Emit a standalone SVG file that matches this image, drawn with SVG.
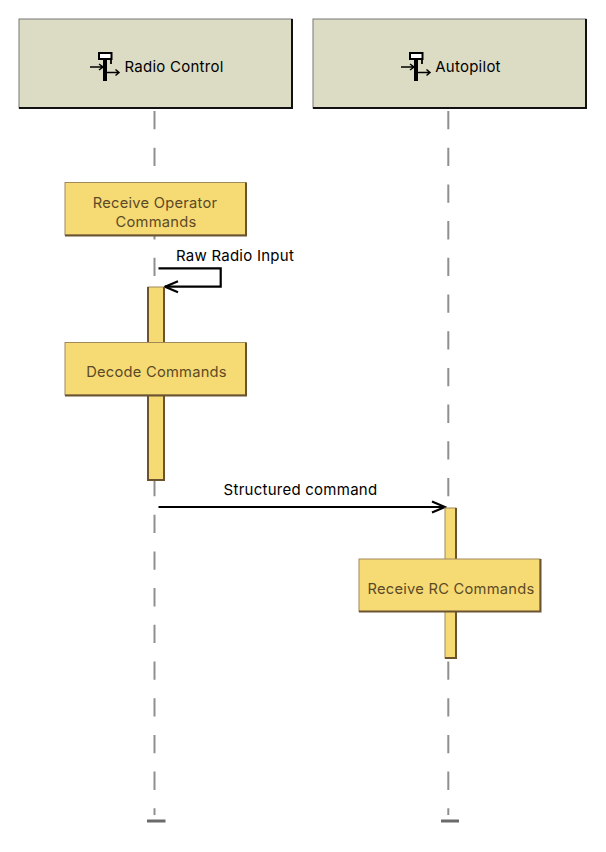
<svg xmlns="http://www.w3.org/2000/svg" width="606" height="852" viewBox="0 0 606 852">
<style>
.life{stroke:#8f8f8f;stroke-width:2;stroke-dasharray:18.3 18.4;fill:none}
.foot{stroke:#6a6a6a;stroke-width:3;fill:none}
.actor{fill:#dcdcc4;stroke:#777;stroke-width:1}
.shadow{fill:none;stroke:#111;stroke-width:2}
.box{fill:#f6da74;stroke:#a08a5c;stroke-width:1}
.edge{fill:none;stroke:#6b5330;stroke-width:2}
.msg{fill:none;stroke:#000;stroke-width:2.200}
text{font-family:"Inter","Liberation Sans",sans-serif;font-size:15px;letter-spacing:.25px;text-anchor:middle}
.n{fill:#5c4a26;font-size:14.700px}
.a{fill:#000}
.icon{fill:none;stroke:#000;stroke-width:1.500}
</style>
<defs>
<marker id="arr" markerWidth="16" markerHeight="14" refX="14.500" refY="7" orient="auto" markerUnits="userSpaceOnUse"><path d="M1.500 1.500L14.500 7L1.500 12.500" fill="none" stroke="#000" stroke-width="2.200"/></marker>
<g id="ic">
<rect x="9" y="-14" width="12.500" height="6" fill="#fff" stroke="#000" stroke-width="2"/>
<path d="M15 -8H21V-3" fill="none" stroke="#000" stroke-width="1.800"/>
<rect x="13" y="-8" width="4" height="22" fill="#000"/>
<path class="icon" d="M0 0H13M9 -3L13 0L9 3M17 5.500H29M25.500 2.500L29 5.500L25.500 8.500"/>
</g>
</defs>
<g id="connectors">
<path class="life" d="M154.500 111V815"/>
<path class="life" d="M448.300 111V815"/>
<path class="foot" d="M147 821H165.500M441 821H459"/>
<path class="msg" marker-end="url(#arr)" d="M158.500 268.300H220.700V286.700H165"/>
<path class="msg" marker-end="url(#arr)" d="M158.500 507H445"/>
<text class="a" x="235" y="261.300">Raw Radio Input</text>
<text class="a" x="300.500" y="494.500">Structured command</text>
</g>
<g id="radio-control">
<rect class="actor" x="19" y="19" width="273" height="89"/>
<path class="shadow" d="M292 19V108H19"/>
<use href="#ic" x="90" y="67"/>
<text class="a" x="174" y="72.300">Radio Control</text>
</g>
<g id="autopilot">
<rect class="actor" x="313" y="19" width="273" height="89"/>
<path class="shadow" d="M586 19V108H313"/>
<use href="#ic" x="401" y="67"/>
<text class="a" x="468" y="72.300">Autopilot</text>
</g>
<g id="receive-operator-commands">
<rect class="box" x="65" y="182.500" width="181" height="52.500"/>
<path class="edge" d="M246 182.500V235.500H65"/>
<text class="n" x="155" y="208">Receive Operator</text>
<text class="n" x="156" y="227">Commands</text>
</g>
<g id="activation-radio">
<rect class="box" x="148" y="287" width="16" height="193"/>
<path class="edge" d="M148 287V480H164V287"/>
</g>
<g id="decode-commands">
<rect class="box" x="65" y="342.500" width="181" height="52.500"/>
<path class="edge" d="M246 342.500V395.500H65"/>
<text class="n" x="156.500" y="377">Decode Commands</text>
</g>
<g id="activation-autopilot">
<rect class="box" x="445" y="508" width="11" height="150"/>
<path class="edge" d="M445 658H456V508"/>
</g>
<g id="receive-rc-commands">
<rect class="box" x="359" y="559" width="181" height="52.500"/>
<path class="edge" d="M359 611.500H540.500V559"/>
<text class="n" x="451" y="594">Receive RC Commands</text>
</g>
</svg>
